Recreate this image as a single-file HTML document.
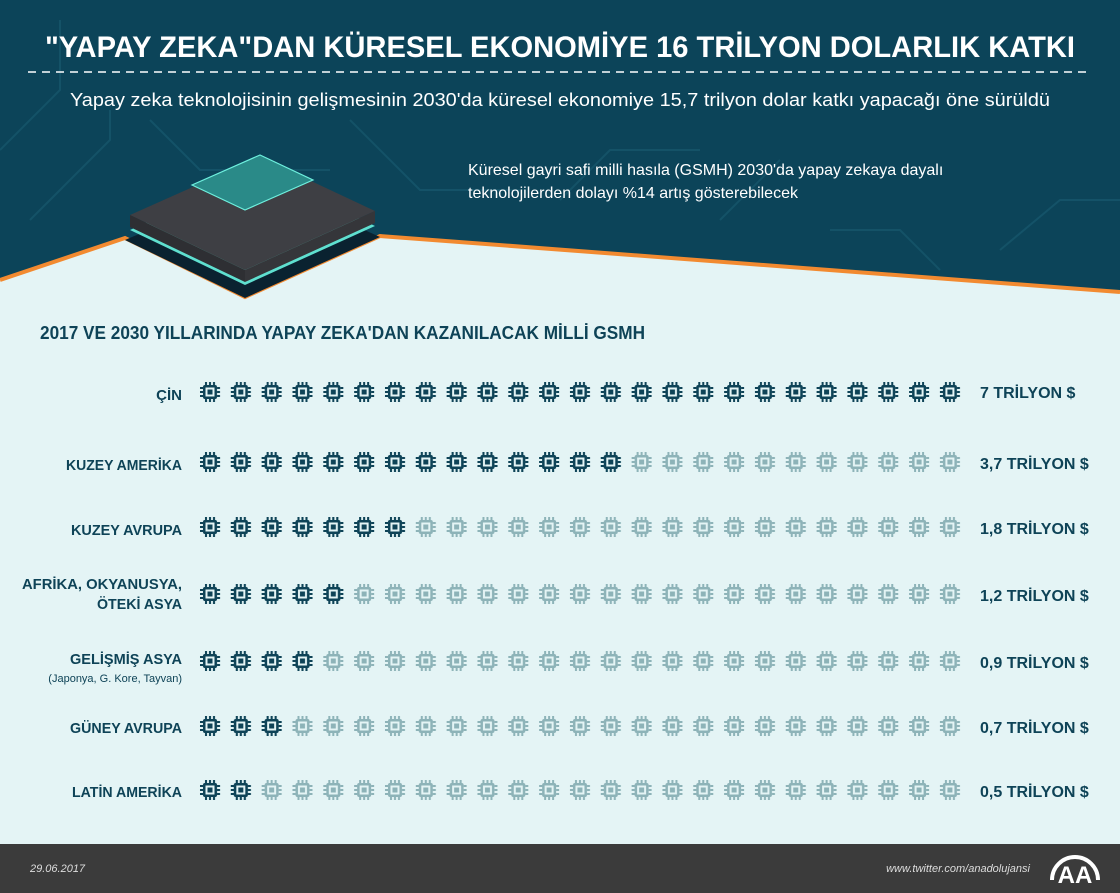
<!DOCTYPE html>
<html><head><meta charset="utf-8"><style>
body{margin:0;width:1120px;height:893px;overflow:hidden;font-family:"Liberation Sans",sans-serif;background:#e4f4f5}
</style></head><body>
<svg width="1120" height="893" xmlns="http://www.w3.org/2000/svg" style="display:block">
<defs>
<g id="chip">
 <rect x="4" y="4" width="14" height="14" rx="2"/>
 <rect x="6.5" y="6.5" width="9" height="9" fill="#e4f4f5"/>
 <rect x="8.5" y="8.5" width="5" height="5"/>
 <rect x="6" y="1" width="2" height="3"/><rect x="10" y="1" width="2" height="3"/><rect x="14" y="1" width="2" height="3"/>
 <rect x="6" y="18" width="2" height="3"/><rect x="10" y="18" width="2" height="3"/><rect x="14" y="18" width="2" height="3"/>
 <rect x="1" y="6" width="3" height="2"/><rect x="1" y="10" width="3" height="2"/><rect x="1" y="14" width="3" height="2"/>
 <rect x="18" y="6" width="3" height="2"/><rect x="18" y="10" width="3" height="2"/><rect x="18" y="14" width="3" height="2"/>
</g>
<pattern id="pd" x="199" y="0" width="30.83" height="22" patternUnits="userSpaceOnUse"><use href="#chip" fill="#0e4357"/></pattern>
<pattern id="pl" x="199" y="0" width="30.83" height="22" patternUnits="userSpaceOnUse"><use href="#chip" fill="#8db3b8"/></pattern>
</defs>
<rect width="1120" height="893" fill="#e4f4f5"/>
<polygon points="0,0 1120,0 1120,292 380,236 245,297 125,238 0,280" fill="#0c4459"/>
<polyline points="0,280 125,238 245,297 380,236 1120,292" fill="none" stroke="#f28a30" stroke-width="4"/>
<g stroke="#17566b" stroke-width="2" fill="none" opacity="0.8">
<path d="M0,150 L60,90 L60,20"/><path d="M30,220 L110,140 L110,110"/><path d="M150,120 L200,170 L330,170"/><path d="M350,120 L420,190 L520,190"/><path d="M560,200 L610,150 L700,150"/><path d="M720,220 L780,160"/><path d="M830,230 L900,230 L940,270"/><path d="M1000,250 L1060,200 L1120,200"/>
</g>
<text x="45" y="57" fill="#fff" font-size="30" font-weight="bold" textLength="1030" lengthAdjust="spacingAndGlyphs">"YAPAY ZEKA"DAN KÜRESEL EKONOMİYE 16 TRİLYON DOLARLIK KATKI</text>
<line x1="28" y1="72" x2="1092" y2="72" stroke="#fff" stroke-width="1.5" stroke-dasharray="8,6"/>
<text x="70" y="106" fill="#fff" font-size="18.5" textLength="980" lengthAdjust="spacingAndGlyphs">Yapay zeka teknolojisinin gelişmesinin 2030'da küresel ekonomiye 15,7 trilyon dolar katkı yapacağı öne sürüldü</text>
<text x="468" y="175" fill="#fff" font-size="16">Küresel gayri safi milli hasıla (GSMH) 2030'da yapay zekaya dayalı</text>
<text x="468" y="198" fill="#fff" font-size="16">teknolojilerden dolayı %14 artış gösterebilecek</text>
<!-- chip -->
<polygon points="125,240 245,298 380,237 260,183" fill="#0a2230"/>
<polygon points="130,230 245,285 375,226 260,170" fill="#5fe0d0"/>
<polygon points="130,215 245,270 375,211 260,157" fill="#3e3f44"/>
<polygon points="130,215 245,270 245,282 130,227" fill="#2e2f33"/>
<polygon points="245,270 375,211 375,223 245,282" fill="#35363a"/>
<polygon points="192,185 245,210 313,180 260,155" fill="#2a8a88" stroke="#6ef0de" stroke-width="1.2"/>
<text x="40" y="339" fill="#0e4357" font-size="18" font-weight="bold" textLength="605" lengthAdjust="spacingAndGlyphs">2017 VE 2030 YILLARINDA YAPAY ZEKA'DAN KAZANILACAK MİLLİ GSMH</text>
<g fill="#0e4357">
<g transform="translate(0,381)"><rect x="199" y="0" width="770" height="22" fill="url(#pd)"/></g>
<g transform="translate(0,451)"><rect x="199" y="0" width="770" height="22" fill="url(#pl)"/><rect x="199" y="0" width="431" height="22" fill="url(#pd)"/></g>
<g transform="translate(0,516)"><rect x="199" y="0" width="770" height="22" fill="url(#pl)"/><rect x="199" y="0" width="215" height="22" fill="url(#pd)"/></g>
<g transform="translate(0,583)"><rect x="199" y="0" width="770" height="22" fill="url(#pl)"/><rect x="199" y="0" width="153" height="22" fill="url(#pd)"/></g>
<g transform="translate(0,650)"><rect x="199" y="0" width="770" height="22" fill="url(#pl)"/><rect x="199" y="0" width="122" height="22" fill="url(#pd)"/></g>
<g transform="translate(0,715)"><rect x="199" y="0" width="770" height="22" fill="url(#pl)"/><rect x="199" y="0" width="91" height="22" fill="url(#pd)"/></g>
<g transform="translate(0,779)"><rect x="199" y="0" width="770" height="22" fill="url(#pl)"/><rect x="199" y="0" width="60" height="22" fill="url(#pd)"/></g>
</g>
<g font-weight="bold" fill="#0e4357" font-size="15">
<text x="182" y="400" text-anchor="end">ÇİN</text>
<text x="182" y="470" text-anchor="end" textLength="116" lengthAdjust="spacingAndGlyphs">KUZEY AMERİKA</text>
<text x="182" y="535" text-anchor="end" textLength="111" lengthAdjust="spacingAndGlyphs">KUZEY AVRUPA</text>
<text x="182" y="589" text-anchor="end" textLength="160" lengthAdjust="spacingAndGlyphs">AFRİKA, OKYANUSYA,</text>
<text x="182" y="609" text-anchor="end" textLength="85" lengthAdjust="spacingAndGlyphs">ÖTEKİ ASYA</text>
<text x="182" y="664" text-anchor="end" textLength="112" lengthAdjust="spacingAndGlyphs">GELİŞMİŞ ASYA</text>
<text x="182" y="682" text-anchor="end" font-size="11" font-weight="normal">(Japonya, G. Kore, Tayvan)</text>
<text x="182" y="733" text-anchor="end" textLength="112" lengthAdjust="spacingAndGlyphs">GÜNEY AVRUPA</text>
<text x="182" y="797" text-anchor="end" textLength="110" lengthAdjust="spacingAndGlyphs">LATİN AMERİKA</text>
</g>
<g font-weight="bold" fill="#0e4357" font-size="16">
<text x="980" y="398">7 TRİLYON $</text>
<text x="980" y="469">3,7 TRİLYON $</text>
<text x="980" y="534">1,8 TRİLYON $</text>
<text x="980" y="601">1,2 TRİLYON $</text>
<text x="980" y="668">0,9 TRİLYON $</text>
<text x="980" y="733">0,7 TRİLYON $</text>
<text x="980" y="797">0,5 TRİLYON $</text>
</g>
<rect x="0" y="844" width="1120" height="49" fill="#3b3b3b"/>
<text x="30" y="872" fill="#ddd" font-size="11" font-style="italic">29.06.2017</text>
<text x="1030" y="872" text-anchor="end" fill="#ddd" font-size="11" font-style="italic">www.twitter.com/anadolujansi</text>
<path d="M1052,880 A22,22 0 0 1 1098,880" fill="none" stroke="#fff" stroke-width="4"/>
<text x="1075" y="883" text-anchor="middle" fill="#fff" font-size="24" font-weight="bold">AA</text>
</svg>
</body></html>
